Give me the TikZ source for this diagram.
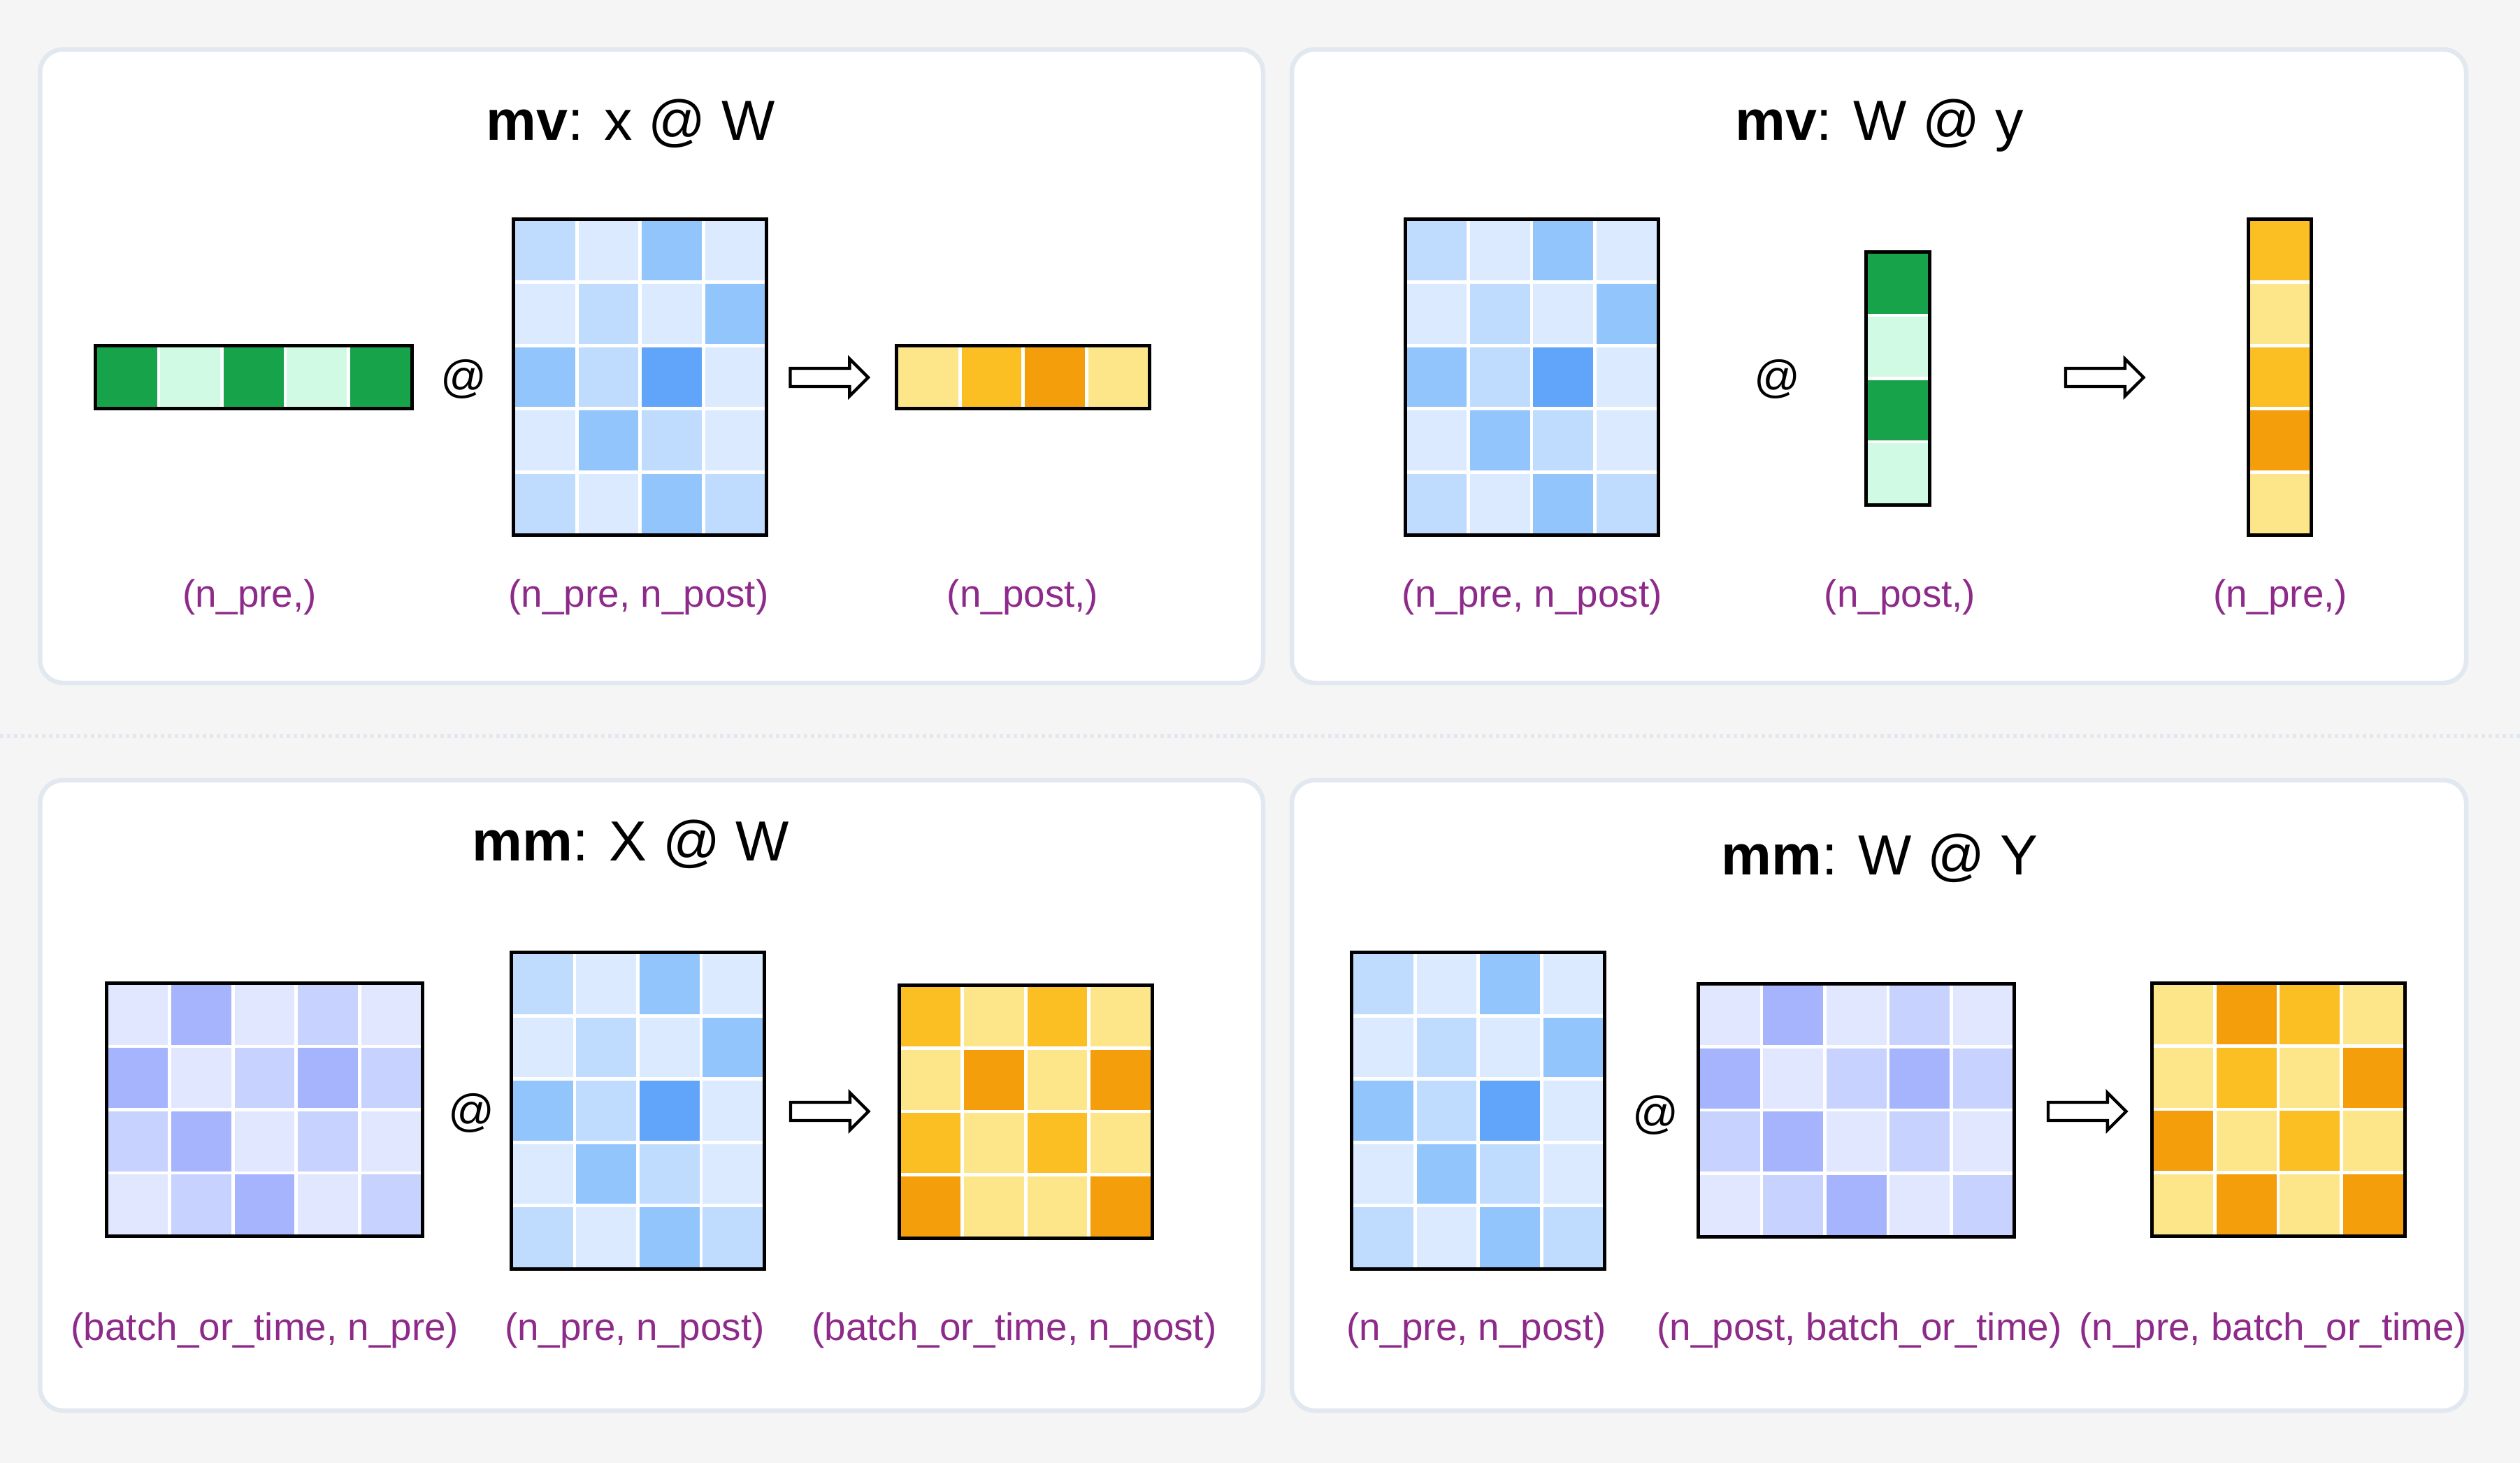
\documentclass[tikz,border=0pt]{standalone}
\usepackage{fontspec}
\setmainfont{Liberation Sans}
\usetikzlibrary{shapes.arrows, calc, positioning}

\definecolor{bgc}{HTML}{F5F5F5}
\definecolor{rim}{HTML}{E2E8F0}
\definecolor{dimc}{HTML}{8E2A8A}
\definecolor{b1}{HTML}{DBEAFE}
\definecolor{b2}{HTML}{BFDBFE}
\definecolor{b3}{HTML}{93C5FD}
\definecolor{b4}{HTML}{60A5FA}
\definecolor{g1}{HTML}{D1FAE5}
\definecolor{g2}{HTML}{16A34A}
\definecolor{y1}{HTML}{FDE68A}
\definecolor{y2}{HTML}{FBBF24}
\definecolor{y3}{HTML}{F59E0B}
\definecolor{p1}{HTML}{E0E7FF}
\definecolor{p2}{HTML}{C7D2FE}
\definecolor{p3}{HTML}{A5B4FC}

\newcommand{\cellsz}{0.905cm}
% name, centre, columns, rows, colours row by row
\newcommand{\cellgrid}[5]{%
  \node[gridbox, minimum width=#3*\cellsz, minimum height=#4*\cellsz] (#1) at (#2) {};
  \foreach \clr [count=\idx from 0] in {#5} {
    \pgfmathtruncatemacro\gx{mod(\idx,#3)}
    \pgfmathtruncatemacro\gy{div(\idx,#3)}
    \filldraw[fill=\clr, cellgap] ($(#1.north west)+(\gx*\cellsz,-\gy*\cellsz)$) rectangle ++(\cellsz,-\cellsz);
  }
  \draw[gridrim] (#1.north west) rectangle (#1.south east);
}

\begin{document}
\begin{tikzpicture}[
    panel/.style={draw=rim, fill=white, line width=0.065cm, rounded corners=0.33cm},
    gridbox/.style={inner sep=0pt, outer sep=0pt},
    cellgap/.style={draw=white, line width=0.047cm},
    gridrim/.style={draw=black, line width=0.05cm},
    title/.style={anchor=base, font=\fontsize{23}{28}\selectfont},
    dimlabel/.style={text=dimc, font=\fontsize{15.6}{19}\selectfont},
    matmul/.style={font=\fontsize{18.5}{22}\selectfont},
    yields/.style={single arrow, draw, fill=white, line width=0.043cm, inner xsep=0pt, outer sep=0pt,
        inner ysep=0.108cm, single arrow head extend=0.137cm, minimum height=1.115cm, anchor=tail}
]
% Background and panels
\fill[bgc] (0,0) rectangle (36.05,-20.93);
\useasboundingbox (0,0) rectangle (36.05,-20.93);
\draw[panel] (0.573,-0.706) rectangle (18.07,-9.77);
\draw[panel] (18.48,-0.706) rectangle (35.28,-9.77);
\draw[panel] (0.573,-11.16) rectangle (18.07,-20.18);
\draw[panel] (18.48,-11.16) rectangle (35.28,-20.18);
\draw[rim, line width=0.06cm, dash pattern=on 0.05cm off 0.05cm] (0,-10.53) -- (36.05,-10.53);

% mv: x @ W
\node[title] (t1) at (9.02,-2.01) {\textbf{mv}: x @ W};
\cellgrid{x1}{3.628,-5.395}{5}{1}{g2,g1,g2,g1,g2}
\node[matmul] (m1) at (6.63,-5.42) {@};
\cellgrid{w1}{9.158,-5.395}{4}{5}{b2,b1,b3,b1, b1,b2,b1,b3, b3,b2,b4,b1, b1,b3,b2,b1, b2,b1,b3,b2}
\node[yields] (a1) at (11.305,-5.40) {};
\cellgrid{r1}{14.637,-5.395}{4}{1}{y1,y2,y3,y1}
\node[dimlabel] (l1) at (3.57,-8.545) {(n\_pre,)};
\node[dimlabel] (l2) at (9.136,-8.545) {(n\_pre, n\_post)};
\node[dimlabel] (l3) at (14.63,-8.545) {(n\_post,)};

% mv: W @ y
\node[title] (t2) at (26.886,-2.01) {\textbf{mv}: W @ y};
\cellgrid{w2}{21.911,-5.395}{4}{5}{b2,b1,b3,b1, b1,b2,b1,b3, b3,b2,b4,b1, b1,b3,b2,b1, b2,b1,b3,b2}
\node[matmul] (m2) at (25.42,-5.42) {@};
\cellgrid{y2}{27.148,-5.414}{1}{4}{g2,g1,g2,g1}
\node[yields] (a2) at (29.55,-5.40) {};
\cellgrid{r2}{32.613,-5.395}{1}{5}{y2,y1,y2,y3,y1}
\node[dimlabel] (l4) at (21.917,-8.545) {(n\_pre, n\_post)};
\node[dimlabel] (l5) at (27.18,-8.545) {(n\_post,)};
\node[dimlabel] (l6) at (32.62,-8.545) {(n\_pre,)};

% mm: X @ W
\node[title] (t3) at (9.025,-12.31) {\textbf{mm}: X @ W};
\cellgrid{x3}{3.784,-15.875}{5}{4}{p1,p3,p1,p2,p1, p3,p1,p2,p3,p2, p2,p3,p1,p2,p1, p1,p2,p3,p1,p2}
\node[matmul] (m3) at (6.74,-15.92) {@};
\cellgrid{w3}{9.124,-15.89}{4}{5}{b2,b1,b3,b1, b1,b2,b1,b3, b3,b2,b4,b1, b1,b3,b2,b1, b2,b1,b3,b2}
\node[yields] (a3) at (11.31,-15.90) {};
\cellgrid{r3}{14.672,-15.90}{4}{4}{y2,y1,y2,y1, y1,y3,y1,y3, y2,y1,y2,y1, y3,y1,y1,y3}
\node[dimlabel] (l7) at (3.79,-19.035) {(batch\_or\_time, n\_pre)};
\node[dimlabel] (l8) at (9.08,-19.035) {(n\_pre, n\_post)};
\node[dimlabel] (l9) at (14.51,-19.035) {(batch\_or\_time, n\_post)};

% mm: W @ Y
\node[title] (t4) at (26.89,-12.51) {\textbf{mm}: W @ Y};
\cellgrid{w4}{21.148,-15.89}{4}{5}{b2,b1,b3,b1, b1,b2,b1,b3, b3,b2,b4,b1, b1,b3,b2,b1, b2,b1,b3,b2}
\node[matmul] (m4) at (23.68,-15.95) {@};
\cellgrid{y4}{26.556,-15.88}{5}{4}{p1,p3,p1,p2,p1, p3,p1,p2,p3,p2, p2,p3,p1,p2,p1, p1,p2,p3,p1,p2}
\node[yields] (a4) at (29.30,-15.90) {};
\cellgrid{r4}{32.59,-15.87}{4}{4}{y1,y3,y2,y1, y1,y2,y1,y3, y3,y1,y2,y1, y1,y3,y1,y3}
\node[dimlabel] (l10) at (21.12,-19.035) {(n\_pre, n\_post)};
\node[dimlabel] (l11) at (26.60,-19.035) {(n\_post, batch\_or\_time)};
\node[dimlabel] (l12) at (32.516,-19.035) {(n\_pre, batch\_or\_time)};
\end{tikzpicture}
\end{document}
